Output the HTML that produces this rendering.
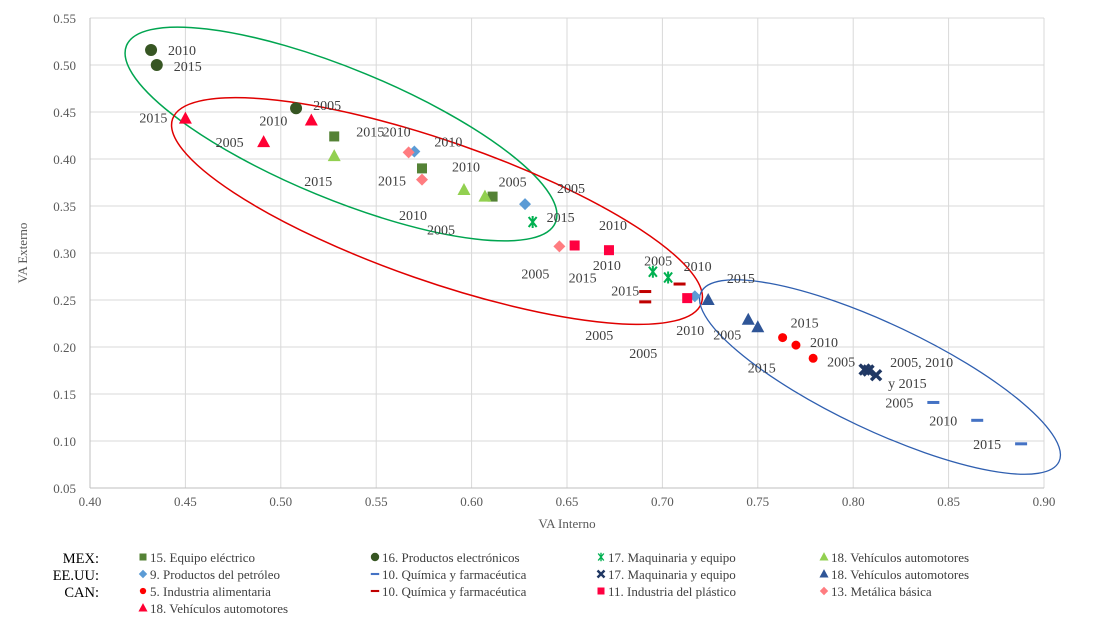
<!DOCTYPE html>
<html><head><meta charset="utf-8"><style>
body{margin:0;background:#fff;}
svg{font-family:"Liberation Serif",serif;}
</style></head><body>
<svg id="c" width="1115" height="631"></svg>
<script>
const xTicks=[0.40,0.45,0.50,0.55,0.60,0.65,0.70,0.75,0.80,0.85,0.90];
const yTicks=[0.05,0.10,0.15,0.20,0.25,0.30,0.35,0.40,0.45,0.50,0.55];
const years=["2005","2010","2015"];
const mex15X=[0.611,0.574,0.528], mex15Y=[0.360,0.390,0.424];
const mex16X=[0.508,0.432,0.435], mex16Y=[0.454,0.516,0.500];
const mex17X=[0.703,0.695,0.632], mex17Y=[0.274,0.280,0.333];
const mex18X=[0.607,0.596,0.528], mex18Y=[0.360,0.367,0.403];
const us9X=[0.628,0.570,0.717], us9Y=[0.352,0.408,0.254];
const us10X=[0.842,0.865,0.888], us10Y=[0.141,0.122,0.097];
const us17X=[0.806,0.808,0.812], us17Y=[0.176,0.175,0.170];
const us18X=[0.745,0.724,0.750], us18Y=[0.229,0.250,0.221];
const can5X=[0.779,0.770,0.763], can5Y=[0.188,0.202,0.210];
const can10X=[0.691,0.709,0.691], can10Y=[0.248,0.267,0.259];
const can11X=[0.713,0.672,0.654], can11Y=[0.252,0.303,0.308];
const can13X=[0.646,0.567,0.574], can13Y=[0.307,0.407,0.378];
const can18X=[0.491,0.516,0.450], can18Y=[0.418,0.441,0.443];
const L=90,R=1044,T=18,B=488;
const sx=v=>L+(v-0.40)/0.50*(R-L), sy=v=>B-(v-0.05)/0.50*(B-T);
const svg=document.getElementById('c');const NS='http://www.w3.org/2000/svg';
function mk(t,a,p){const e=document.createElementNS(NS,t);for(const k in a)e.setAttribute(k,a[k]);(p||svg).appendChild(e);return e;}
xTicks.forEach(v=>{const l=mk('line',{x1:sx(v),x2:sx(v),y1:T,y2:B,stroke:'#d9d9d9'});

const t=mk('text',{x:sx(v),y:B+18,'text-anchor':'middle','font-size':13,fill:'#595959'});t.textContent=v.toFixed(2);
});
yTicks.forEach(v=>{const l=mk('line',{x1:L,x2:R,y1:sy(v),y2:sy(v),stroke:'#d9d9d9'});

const t=mk('text',{x:L-14,y:sy(v)+5,'text-anchor':'end','font-size':13,fill:'#595959'});t.textContent=v.toFixed(2);
});
mk('line',{x1:L,x2:L,y1:T,y2:B,stroke:'#bfbfbf'});
mk('line',{x1:L,x2:R,y1:B,y2:B,stroke:'#bfbfbf'});
let t=mk('text',{x:567,y:528,'text-anchor':'middle','font-size':13,fill:'#595959'});t.textContent='VA Interno';

t=mk('text',{x:0,y:0,'text-anchor':'middle','font-size':13,fill:'#595959',transform:'translate(27,253) rotate(-90)'});t.textContent='VA Externo';

let e=mk('ellipse',{cx:341,cy:134,rx:232,ry:65,fill:'none',stroke:'#00a550','stroke-width':1.5,transform:'rotate(22.4 341 134)'});

e=mk('ellipse',{cx:437,cy:211,rx:280,ry:70,fill:'none',stroke:'#e00000','stroke-width':1.5,transform:'rotate(19.2 437 211)'});

e=mk('ellipse',{cx:880,cy:377,rx:198,ry:53,fill:'none',stroke:'#2f5fb0','stroke-width':1.3,transform:'rotate(25.3 880 377)'});

function marker(shape,color,x,y,g){
 if(shape==='sq')return mk('rect',{x:x-5,y:y-5,width:10,height:10,fill:color},g);
 if(shape==='ci')return mk('circle',{cx:x,cy:y,r:6,fill:color},g);
 if(shape==='sci')return mk('circle',{cx:x,cy:y,r:4.5,fill:color},g);
 if(shape==='tr')return mk('path',{d:`M${x},${y-7}L${x+6.5},${y+5}L${x-6.5},${y+5}Z`,fill:color},g);
 if(shape==='di')return mk('path',{d:`M${x},${y-6}L${x+6},${y}L${x},${y+6}L${x-6},${y}Z`,fill:color},g);
 if(shape==='da')return mk('rect',{x:x-6,y:y-1.5,width:12,height:3,fill:color},g);
 if(shape==='as')return mk('path',{d:`M${x-4},${y-5}L${x+4},${y+5}M${x+4},${y-5}L${x-4},${y+5}M${x},${y-6}V${y+6}`,stroke:color,'stroke-width':2,fill:'none'},g);
 if(shape==='x')return mk('path',{d:`M${x-5},${y-5}L${x+5},${y+5}M${x+5},${y-5}L${x-5},${y+5}`,stroke:color,'stroke-width':3.5,fill:'none'},g);
}
const series=[
 ['mex-15',mex15X,mex15Y,'sq','#548235',[[6,-10],[30,3],[22,0]]],
 ['mex-16',mex16X,mex16Y,'ci','#375623',[[17,2],[17,5],[17,6]]],
 ['mex-17',mex17X,mex17Y,'as','#00b050',[[-24,-12],[-60,-2],[14,0]]],
 ['mex-18',mex18X,mex18Y,'tr','#92d050',[[-58,38],[-65,30],[-30,30]]],
 ['us-9',us9X,us9Y,'di','#5b9bd5',[[32,-11],[20,-5],[32,-13]]],
 ['us-10',us10X,us10Y,'da','#4472c4',[[-48,5],[-48,5],[-48,5]]],
 ['us-17',us17X,us17Y,'x','#203864',[[0,0],[0,0],[0,0]]],
 ['us-18',us18X,us18Y,'tr','#2f5597',[[-35,20],[-32,35],[-10,45]]],
 ['can-5',can5X,can5Y,'sci','#ff0000',[[14,8],[14,2],[8,-10]]],
 ['can-10',can10X,can10Y,'da','#c00000',[[-60,38],[4,-13],[-34,4]]],
 ['can-11',can11X,can11Y,'sq','#ff0040',[[-58,60],[-10,-20],[-6,37]]],
 ['can-13',can13X,can13Y,'di','#ff7c80',[[-38,32],[-26,-16],[-44,6]]],
 ['can-18',can18X,can18Y,'tr','#ff0033',[[-48,5],[-52,5],[-46,4]]]
];
series.forEach(s=>{const g=mk('g',{});
 
 s[1].forEach((xv,i)=>{const m=marker(s[3],s[4],sx(xv),sy(s[2][i]),g);
  
  if(s[0]==='us-17')return;
  const tx=mk('text',{x:sx(xv)+s[5][i][0],y:sy(s[2][i])+s[5][i][1],'font-size':14,fill:'#404040'},g);tx.textContent=years[i];
  });
});
t=mk('text',{x:sx(0.812)+14,y:sy(0.170)-8,'font-size':14,fill:'#404040'});t.textContent='2005, 2010';

t=mk('text',{x:sx(0.812)+12,y:sy(0.170)+13,'font-size':14,fill:'#404040'});t.textContent='y 2015';

const rows=[['MEX:',[['sq','#548235','15. Equipo eléctrico'],['ci','#375623','16. Productos electrónicos'],['as','#00b050','17. Maquinaria y equipo'],['tr','#92d050','18. Vehículos automotores']]],
['EE.UU:',[['di','#5b9bd5','9. Productos del petróleo'],['da','#4472c4','10. Química y farmacéutica'],['x','#203864','17. Maquinaria y equipo'],['tr','#2f5597','18. Vehículos automotores']]],
['CAN:',[['sci','#ff0000','5. Industria alimentaria'],['da','#c00000','10. Química y farmacéutica'],['sq','#ff0040','11. Industria del plástico'],['di','#ff7c80','13. Metálica básica']]],
['',[['tr','#ff0033','18. Vehículos automotores']]]];
const colX=[143,375,601,824];
rows.forEach((r,ri)=>{const y=557+ri*17;
 if(r[0]){const h=mk('text',{x:99,y:y+6,'text-anchor':'end','font-size':14.5,fill:'#000'});h.textContent=r[0];
 }
 r[1].forEach((it,ci)=>{const g=mk('g',{});
  const m=marker(it[0],it[1],colX[ci],y,g);m.setAttribute('transform',`translate(${colX[ci]*0.3},${y*0.3}) scale(0.7)`);
  const tx=mk('text',{x:colX[ci]+7,y:y+5,'font-size':13,fill:'#404040'},g);tx.textContent=it[2];});
});
</script>
</body></html>
